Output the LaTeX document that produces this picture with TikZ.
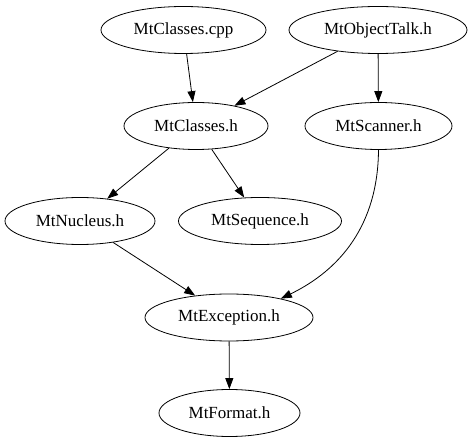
\documentclass[tikz,border=0pt]{standalone}
\usepackage{fontspec}
\setmainfont{Liberation Serif}
\usetikzlibrary{shapes.geometric,arrows.meta}
\begin{document}
\begin{tikzpicture}[x=1pt,y=-1pt,
  nd/.style={draw,ellipse,line width=0.8pt,inner sep=0pt,font=\fontsize{17}{19}\selectfont},
  ed/.style={line width=0.8pt,-{Triangle[length=11pt,width=8pt]}}]
\useasboundingbox (0,0) rectangle (472,443);
\node[nd,minimum width=165pt,minimum height=47pt] (cpp) at (183.5,30) {MtClasses.cpp};
\node[nd,minimum width=178pt,minimum height=47pt] (ot) at (378,30) {MtObjectTalk.h};
\node[nd,minimum width=144pt,minimum height=47pt] (ch) at (196,126) {MtClasses.h};
\node[nd,minimum width=147pt,minimum height=47pt] (sc) at (378.5,126) {MtScanner.h};
\node[nd,minimum width=150pt,minimum height=47pt] (nu) at (80,221) {MtNucleus.h};
\node[nd,minimum width=163pt,minimum height=47pt] (se) at (260,221) {MtSequence.h};
\node[nd,minimum width=168pt,minimum height=47pt] (ex) at (229,317.5) {MtException.h};
\node[nd,minimum width=141pt,minimum height=47pt] (fo) at (229.5,413) {MtFormat.h};
\draw[ed] (cpp) -- (ch);
\draw[ed] (ot) -- (ch);
\draw[ed] (ot) -- (sc);
\draw[ed] (ch) -- (nu);
\draw[ed] (ch) -- (se);
\draw[ed] (nu) -- (ex);
\draw[ed] (sc.south) .. controls (378,225) and (340,270) .. (ex.20);
\draw[ed] (ex) -- (fo);
\end{tikzpicture}
\end{document}
